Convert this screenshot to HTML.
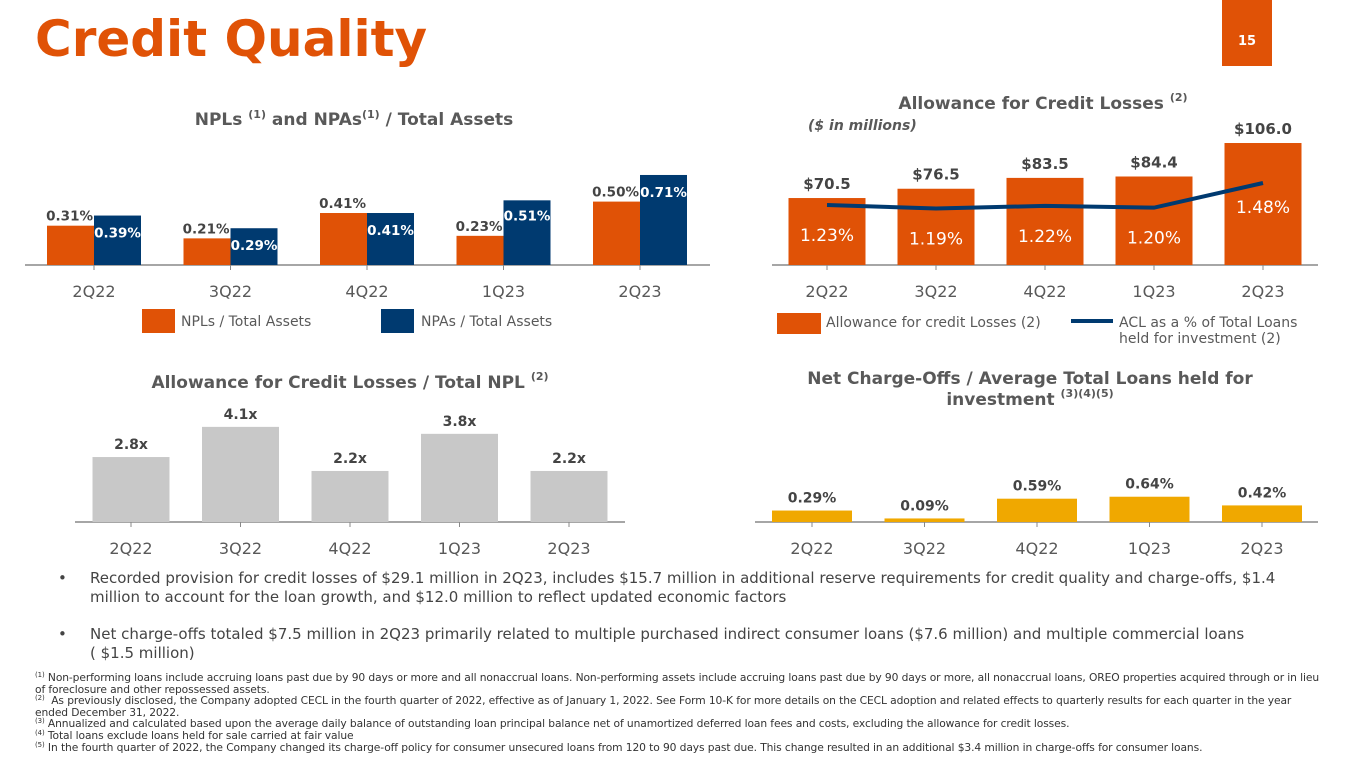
<!DOCTYPE html>
<html><head><meta charset="utf-8">
<style>
html,body{margin:0;padding:0;background:#fff;}
#root{position:relative;width:1365px;height:768px;overflow:hidden;font-family:"DejaVu Sans","Liberation Sans",sans-serif;}
.t{position:absolute;white-space:nowrap;}
.fn{position:absolute;left:35px;font-size:10.7px;color:#333;white-space:nowrap;font-family:"DejaVu Sans",sans-serif;letter-spacing:-0.1px;}
.fn sup{font-size:7px;vertical-align:4px;line-height:0;}
.bul{position:absolute;left:58px;font-size:15px;color:#444;line-height:19px;width:1270px;}
.bul span.dot{position:absolute;left:0;}
.bul div{margin-left:32px;}
</style></head><body>
<div id="root">
<div class="t" style="left:35px;top:10px;font-size:50px;font-weight:bold;color:#e05206;font-family:'DejaVu Sans','Liberation Sans',sans-serif;">Credit Quality</div>
<div style="position:absolute;left:1222px;top:0;width:50px;height:66px;background:#e05206;color:#fff;font-size:13px;font-weight:bold;text-align:center;line-height:84px;">15</div>

<svg id="charts" width="1365" height="570" style="position:absolute;left:0;top:0" font-family="DejaVu Sans, Liberation Sans, sans-serif"></svg>

<div class="bul" style="top:569px"><span class="dot">•</span><div>Recorded provision for credit losses of $29.1 million in 2Q23, includes $15.7 million in additional reserve requirements for credit quality and charge-offs, $1.4<br>million to account for the loan growth, and $12.0 million to reflect updated economic factors</div></div>
<div class="bul" style="top:625px"><span class="dot">•</span><div>Net charge-offs totaled $7.5 million in 2Q23 primarily related to multiple purchased indirect consumer loans ($7.6 million) and multiple commercial loans<br>( $1.5 million)</div></div>

<div class="fn" style="top:671px"><sup>(1)</sup> Non-performing loans include accruing loans past due by 90 days or more and all nonaccrual loans. Non-performing assets include accruing loans past due by 90 days or more, all nonaccrual loans, OREO properties acquired through or in lieu</div>
<div class="fn" style="top:683px">of foreclosure and other repossessed assets.</div>
<div class="fn" style="top:694px"><sup>(2)</sup>&nbsp; As previously disclosed, the Company adopted CECL in the fourth quarter of 2022, effective as of January 1, 2022. See Form 10-K for more details on the CECL adoption and related effects to quarterly results for each quarter in the year</div>
<div class="fn" style="top:706px">ended December 31, 2022.</div>
<div class="fn" style="top:717px"><sup>(3)</sup> Annualized and calculated based upon the average daily balance of outstanding loan principal balance net of unamortized deferred loan fees and costs, excluding the allowance for credit losses.</div>
<div class="fn" style="top:729px"><sup>(4)</sup> Total loans exclude loans held for sale carried at fair value</div>
<div class="fn" style="top:741px"><sup>(5)</sup> In the fourth quarter of 2022, the Company changed its charge-off policy for consumer unsecured loans from 120 to 90 days past due. This change resulted in an additional $3.4 million in charge-offs for consumer loans.</div>
</div>

<script>
const quarters = ["2Q22","3Q22","4Q22","1Q23","2Q23"];
const nplValues = [0.31,0.21,0.41,0.23,0.50];
const npaValues = [0.39,0.29,0.41,0.51,0.71];
const nplLabels = ["0.31%","0.21%","0.41%","0.23%","0.50%"];
const npaLabels = ["0.39%","0.29%","0.41%","0.51%","0.71%"];
const aclValues = [70.5,76.5,83.5,84.4,106.0];
const aclLabels = ["$70.5","$76.5","$83.5","$84.4","$106.0"];
const aclPctValues = [1.23,1.19,1.22,1.20,1.48];
const aclPctLabels = ["1.23%","1.19%","1.22%","1.20%","1.48%"];
const coverageValues = [2.8,4.1,2.2,3.8,2.2];
const coverageLabels = ["2.8x","4.1x","2.2x","3.8x","2.2x"];
const ncoValues = [0.29,0.09,0.59,0.64,0.42];
const ncoLabels = ["0.29%","0.09%","0.59%","0.64%","0.42%"];

const NS="http://www.w3.org/2000/svg";
const svg=document.getElementById('charts');
function el(tag,attrs,parent){const e=document.createElementNS(NS,tag);for(const k in attrs)e.setAttribute(k,attrs[k]);(parent||svg).appendChild(e);return e;}
function txt(x,y,s,attrs,parent){const e=el('text',Object.assign({x:x,y:y},attrs),parent);e.textContent=s;return e;}
const ORANGE="#e05206",NAVY="#003a70",GREY="#c8c8c8",GOLD="#f0a800",DARK="#444";

function axis(x0,x1,y,centers,g){
  el('line',{x1:x0,x2:x1,y1:y,y2:y,stroke:'#888','stroke-width':1.5},g);
  centers.forEach(c=>el('line',{x1:c,x2:c,y1:y,y2:y+5,stroke:'#888'},g));
}
function xs(start,step){return quarters.map((q,i)=>start+i*step);}

// Chart 1
{
  const g=el('g',{});
  
  
  const t=txt(354,125,'',{'font-size':17,'font-weight':'bold',fill:'#595959','text-anchor':'middle'},g);
  t.innerHTML='NPLs <tspan font-size="11" dy="-7">(1)</tspan><tspan dy="7"> and NPAs</tspan><tspan font-size="11" dy="-7">(1)</tspan><tspan dy="7"> / Total Assets</tspan>';
  
  
  const base=265, cx=xs(94,136.5), k=126.8, w=47;
  const y=v=>base-v*k;
  axis(25,710,base,cx,g);
  quarters.forEach((q,i)=>{
    const r1=el('rect',{x:cx[i]-w,y:y(nplValues[i]),width:w,height:base-y(nplValues[i]),fill:ORANGE},g);
    
    
    const r2=el('rect',{x:cx[i],y:y(npaValues[i]),width:w,height:base-y(npaValues[i]),fill:NAVY},g);
    
    
    txt(cx[i]-1,y(nplValues[i])-5,nplLabels[i],{'font-size':13.5,'font-weight':'bold',fill:DARK,'text-anchor':'end'},g);
    txt(cx[i]+w/2,y(npaValues[i])+(i==3?20:22),npaLabels[i],{'font-size':13.5,'font-weight':'bold',fill:'#fff','text-anchor':'middle'},g);
    txt(cx[i],297,q,{'font-size':16,fill:'#595959','text-anchor':'middle'},g);
  });
  const l1=el('rect',{x:142,y:309,width:33,height:24,fill:ORANGE},g);
  
  
  txt(181,326,'NPLs / Total Assets',{'font-size':14,fill:'#595959'},g);
  const l2=el('rect',{x:381,y:309,width:33,height:24,fill:NAVY},g);
  
  
  txt(421,326,'NPAs / Total Assets',{'font-size':14,fill:'#595959'},g);
}

// Chart 2
{
  const g=el('g',{});
  
  
  const t=txt(1043,109,'',{'font-size':17,'font-weight':'bold',fill:'#595959','text-anchor':'middle'},g);
  t.innerHTML='Allowance for Credit Losses <tspan font-size="11" dy="-8">(2)</tspan>';
  txt(808,130,'($ in millions)',{'font-size':14,'font-weight':'bold','font-style':'italic',fill:'#595959'},g);
  const base=265, cx=xs(827,109), w=77, k=1.55, mn=27.3;
  const y=v=>base-(v-mn)*k;
  const yp=v=>205-(v-1.23)*88;
  axis(772,1318,base,cx,g);
  quarters.forEach((q,i)=>{
    const r=el('rect',{x:cx[i]-w/2,y:y(aclValues[i]),width:w,height:base-y(aclValues[i]),fill:ORANGE},g);
    
    
    txt(cx[i],y(aclValues[i])-9,aclLabels[i],{'font-size':15,'font-weight':'bold',fill:DARK,'text-anchor':'middle'},g);
    txt(cx[i],yp(aclPctValues[i])+(i==4?30:36),aclPctLabels[i],{'font-size':17,fill:'#fff','text-anchor':'middle'},g);
    txt(cx[i],297,q,{'font-size':16,fill:'#595959','text-anchor':'middle'},g);
  });
  const pl=el('polyline',{points:cx.map((c,i)=>c+','+yp(aclPctValues[i])).join(' '),fill:'none',stroke:NAVY,'stroke-width':4},g);
  
  
  const l1=el('rect',{x:777,y:313,width:44,height:21,fill:ORANGE},g);
  
  
  txt(826,327,'Allowance for credit Losses (2)',{'font-size':14,fill:'#595959'},g);
  const l2=el('line',{x1:1071,x2:1113,y1:321,y2:321,stroke:NAVY,'stroke-width':4},g);
  
  
  txt(1119,327,'ACL as a % of Total Loans',{'font-size':14,fill:'#595959'},g);
  txt(1119,343,'held for investment (2)',{'font-size':14,fill:'#595959'},g);
}

// Chart 3
{
  const g=el('g',{});
  
  
  const t=txt(350,388,'',{'font-size':17,'font-weight':'bold',fill:'#595959','text-anchor':'middle'},g);
  t.innerHTML='Allowance for Credit Losses / Total NPL <tspan font-size="11" dy="-8">(2)</tspan>';
  const base=522, cx=xs(131,109.5), w=77, k=23.2;
  const y=v=>base-v*k;
  axis(75,625,base,cx,g);
  quarters.forEach((q,i)=>{
    const r=el('rect',{x:cx[i]-w/2,y:y(coverageValues[i]),width:w,height:base-y(coverageValues[i]),fill:GREY},g);
    
    
    txt(cx[i],y(coverageValues[i])-8,coverageLabels[i],{'font-size':14,'font-weight':'bold',fill:DARK,'text-anchor':'middle'},g);
    txt(cx[i],554,q,{'font-size':16,fill:'#595959','text-anchor':'middle'},g);
  });
}

// Chart 4
{
  const g=el('g',{});
  
  
  txt(1030,384,'Net Charge-Offs / Average Total Loans held for',{'font-size':17,'font-weight':'bold',fill:'#595959','text-anchor':'middle'},g);
  const t=txt(1030,405,'',{'font-size':17,'font-weight':'bold',fill:'#595959','text-anchor':'middle'},g);
  t.innerHTML='investment <tspan font-size="11" dy="-8">(3)(4)(5)</tspan>';
  const base=522, cx=xs(812,112.5), w=80, k=39.5;
  const y=v=>base-v*k;
  axis(755,1318,base,cx,g);
  quarters.forEach((q,i)=>{
    const r=el('rect',{x:cx[i]-w/2,y:y(ncoValues[i]),width:w,height:base-y(ncoValues[i]),fill:GOLD},g);
    
    
    txt(cx[i],y(ncoValues[i])-8,ncoLabels[i],{'font-size':14,'font-weight':'bold',fill:DARK,'text-anchor':'middle'},g);
    txt(cx[i],554,q,{'font-size':16,fill:'#595959','text-anchor':'middle'},g);
  });
}
</script>
</body></html>
